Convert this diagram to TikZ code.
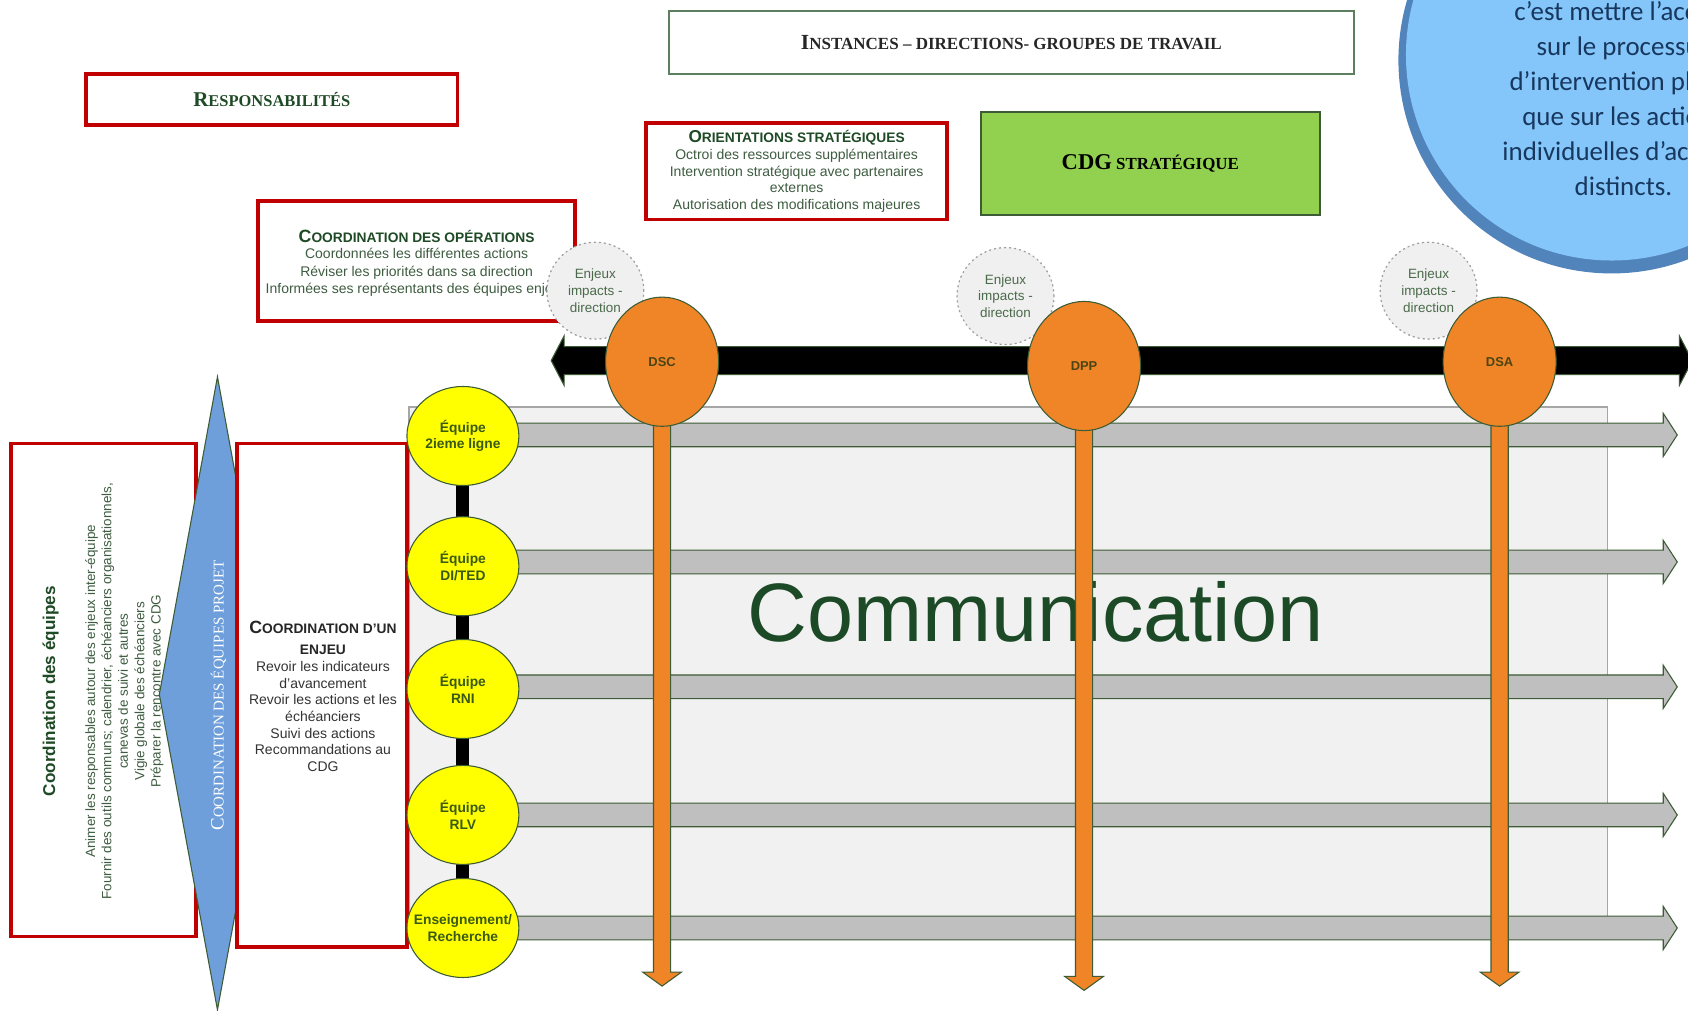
\documentclass[tikz,border=0pt]{standalone}
\usepackage{fontspec}
\usetikzlibrary{shapes.geometric,calc}
\newfontfamily\arialf{Liberation Sans}
\newfontfamily\serif{Liberation Serif}
\newfontfamily\calibf{Carlito}

\definecolor{boxred}{HTML}{C00000}
\definecolor{ttlgreen}{HTML}{1F4A26}
\definecolor{bodygreen}{HTML}{3E5C40}
\definecolor{edgegreen}{HTML}{3D5C35}
\definecolor{cdggreen}{HTML}{92D050}
\definecolor{orangefill}{HTML}{F08527}
\definecolor{yellowfill}{HTML}{FFFF00}
\definecolor{graybar}{HTML}{BFBFBF}
\definecolor{panel}{HTML}{F1F1F1}
\definecolor{paneledge}{HTML}{A6A6A6}
\definecolor{diamondblue}{HTML}{6F9FDB}
\definecolor{commgreen}{HTML}{1C4A27}
\definecolor{skyin}{HTML}{84C6F9}
\definecolor{skyrim}{HTML}{5284BC}
\definecolor{navytext}{HTML}{17375E}
\definecolor{enjeuxfill}{HTML}{F0F0F0}
\definecolor{enjeuxedge}{HTML}{A0A0A0}
\definecolor{enjeuxtext}{HTML}{4A6A4A}
\definecolor{yellowtext}{HTML}{3A5A14}
\definecolor{orangetext}{HTML}{4A4514}
\definecolor{instedge}{HTML}{5E7E60}

% larger first letter for the hand-made small capitals
\newcommand\initcap[2]{{\fontsize{#1}{#1}\selectfont #2}}

% block arrows: style, start, tip, half shaft, half head, head length
\newcommand\blockright[6]{\path[#1] let \p1=(#2), \p2=(#3) in
  (\x1,\y1-#4) -- (\x2-#6,\y1-#4) -- (\x2-#6,\y1-#5) -- (\x2,\y1)
  -- (\x2-#6,\y1+#5) -- (\x2-#6,\y1+#4) -- (\x1,\y1+#4) -- cycle;}
\newcommand\blockdouble[6]{\path[#1] let \p1=(#2), \p2=(#3) in
  (\x1,\y1) -- (\x1+#6,\y1+#5) -- (\x1+#6,\y1+#4) -- (\x2-#6,\y1+#4)
  -- (\x2-#6,\y1+#5) -- (\x2,\y1) -- (\x2-#6,\y1-#5) -- (\x2-#6,\y1-#4)
  -- (\x1+#6,\y1-#4) -- (\x1+#6,\y1-#5) -- cycle;}
\newcommand\blockdown[6]{\path[#1] let \p1=(#2), \p2=(#3) in
  (\x1-#4,\y1) -- (\x1-#4,\y2+#6) -- (\x1-#5,\y2+#6) -- (\x1,\y2)
  -- (\x1+#5,\y2+#6) -- (\x1+#4,\y2+#6) -- (\x1+#4,\y1) -- cycle;}

\begin{document}
\begin{tikzpicture}[x=1pt,y=-1pt,
  redbox/.style={draw=boxred, line width=3.5, fill=white, inner sep=0},
  enjeux/.style={circle, draw=enjeuxedge, dash pattern=on 1.2pt off 3.5pt, line cap=round,
    line width=1.2, fill=enjeuxfill, minimum size=90, inner sep=0, align=center,
    text=enjeuxtext, font=\arialf\fontsize{12.5}{15.5}\selectfont},
  orangeball/.style={ellipse, draw=edgegreen, line width=1, fill=orangefill,
    minimum width=105, minimum height=120, inner sep=0, text=orangetext,
    font=\arialf\bfseries\fontsize{12}{14}\selectfont},
  yellowball/.style={ellipse, draw=edgegreen, line width=1, fill=yellowfill,
    minimum width=104, minimum height=92, inner sep=0},
  yellowlabel/.style={align=center, text=yellowtext, inner sep=0,
    font=\arialf\bfseries\fontsize{12.8}{15.5}\selectfont},
  grayarrow/.style={fill=graybar, draw=edgegreen, line width=1},
  blackarrow/.style={fill=black, draw=edgegreen, line width=1},
  orangearrow/.style={fill=orangefill, draw=edgegreen, line width=1},
  teamlink/.style={line width=12, draw=black},
  smalltitle/.style={font=\arialf\bfseries\fontsize{12.8}{19}\selectfont, align=center},
  bodytext/.style={font=\arialf\fontsize{13}{15.5}\selectfont, align=center}
]
\useasboundingbox (0,0) rectangle (1568,939);
\clip (0,0) rectangle (1568,939);
\fill[white] (0,0) rectangle (1568,939);

% blue bubble in the upper right corner
\fill[skyrim] (1497,56) circle (198);
\fill[skyin] (1497,51) circle (191);
\node[font=\calibf\fontsize{25}{32.6}\selectfont, text=navytext, align=center] (bubble)
  at (1508,91.5) {c’est mettre l’accent\\sur le processus\\d’intervention plutôt\\que sur les actions\\individuelles d’acteurs\\distincts.};

% headings of the upper band
\node[draw=instedge, line width=1.8, fill=white, minimum width=637, minimum height=59,
  font=\serif\bfseries\fontsize{15.8}{18}\selectfont, text=black!85] (instances)
  at (939.5,39.5) {\initcap{20}{I}NSTANCES – DIRECTIONS- GROUPES DE TRAVAIL};
\node[redbox, minimum width=345, minimum height=47, text=ttlgreen,
  font=\serif\bfseries\fontsize{15.3}{18}\selectfont] (resp)
  at (252.5,92.5) {\initcap{19.5}{R}ESPONSABILITÉS};

\node[redbox, minimum width=280, minimum height=90] (orient) at (740,159) {};
\node[smalltitle, text=ttlgreen] (orienttitle) at (740,128) {\initcap{16}{O}RIENTATIONS STRATÉGIQUES};
\node[bodytext, text=bodygreen] (orientbody) at (740,168)
  {Octroi des ressources supplémentaires\\Intervention stratégique avec partenaires\\externes\\Autorisation des modifications majeures};

\node[draw=edgegreen, line width=1.5, fill=cdggreen, minimum width=315, minimum height=96,
  font=\serif\bfseries\fontsize{15.7}{18}\selectfont, text=black] (cdg)
  at (1068.5,152) {\initcap{21}{CDG} STRATÉGIQUE};

\node[redbox, minimum width=294, minimum height=111] (coordop) at (387,242.5) {};
\node[smalltitle, text=ttlgreen] (coordoptitle) at (387,220) {\initcap{16.5}{C}OORDINATION DES OPÉRATIONS};
\node[bodytext, text=bodygreen, font=\arialf\fontsize{13}{16}\selectfont] (coordopbody) at (387,253)
  {Coordonnées les différentes actions\\Réviser les priorités dans sa direction\\Informées ses représentants des équipes enjeux};

% communication panel with the team streams
\draw[fill=panel, draw=paneledge, line width=1.2] (380,378) rectangle (1493,862);
\foreach \i/\yy in {1/404,2/522,3/638,4/757,5/862}{
  \coordinate (gs\i) at (470,\yy);
  \coordinate (ge\i) at (1558,\yy);
  \blockright{grayarrow}{gs\i}{ge\i}{11pt}{20pt}{13pt}
}
\node[font=\arialf\fontsize{77}{80}\selectfont, text=commgreen, inner sep=0] (comm) at (962,568) {Communication};

% line of the directions
\coordinate (bl) at (512,335);
\coordinate (br) at (1572,335);
\blockdouble{blackarrow}{bl}{br}{13pt}{23pt}{12pt}

\node[enjeux] (enj1) at (553,270) {Enjeux\\impacts -\\direction};
\node[enjeux] (enj2) at (934,275) {Enjeux\\impacts -\\direction};
\node[enjeux] (enj3) at (1327,270) {Enjeux\\impacts -\\direction};

\coordinate (dscc) at (615,336);
\coordinate (dppc) at (1007,340);
\coordinate (dsac) at (1393,336);
\coordinate (dscend) at (615,916);
\coordinate (dppend) at (1007,920);
\coordinate (dsaend) at (1393,916);
\blockdown{orangearrow}{dscc}{dscend}{8pt}{18pt}{13pt}
\blockdown{orangearrow}{dppc}{dppend}{8pt}{18pt}{13pt}
\blockdown{orangearrow}{dsac}{dsaend}{8pt}{18pt}{13pt}
\node[orangeball] (dsc) at (dscc) {DSC};
\node[orangeball] (dpp) at (dppc) {DPP};
\node[orangeball] (dsa) at (dsac) {DSA};

% team coordination column
\node[redbox, minimum width=172, minimum height=458] (coordeq) at (96,641) {};
\node[rotate=90, font=\arialf\bfseries\fontsize{15.9}{18}\selectfont, text=ttlgreen] (coordeqtitle)
  at (47,642) {Coordination des équipes};
\node[rotate=90, align=center, font=\arialf\fontsize{12.5}{15.25}\selectfont, text=bodygreen] (coordeqbody)
  at (115.5,642) {Animer les responsables autour des enjeux inter-équipe\\Fournir des outils communs; calendrier, échéanciers organisationnels,\\canevas de suivi et autres\\Vigie globale des échéanciers\\Préparer la rencontre avec CDG};

\coordinate (dtop) at (202,350);
\coordinate (dleft) at (148,645);
\coordinate (dbot) at (202,938);
\coordinate (dright) at (256,645);
\draw[fill=diamondblue, draw=edgegreen, line width=1] (dtop) -- (dleft) -- (dbot) -- (dright) -- cycle;
\node[rotate=90, text=white, font=\serif\fontsize{13.9}{16}\selectfont] (projlabel)
  at (203,646) {\initcap{17.5}{C}OORDINATION DES ÉQUIPES PROJET};

\node[redbox, minimum width=158, minimum height=468] (coordenj) at (299,646) {};
\node[smalltitle, text=black!85] (coordenjtitle) at (300,592.5)
  {\initcap{16.5}{C}OORDINATION D’UN\\ENJEU};
\node[bodytext, text=black!80] (coordenjbody) at (300,665.5)
  {Revoir les indicateurs\\d’avancement\\Revoir les actions et les\\échéanciers\\Suivi des actions\\Recommandations au\\CDG};

% teams
\coordinate (yc1) at (430,405);
\coordinate (yc2) at (430,526);
\coordinate (yc3) at (430,640);
\coordinate (yc4) at (430,757);
\coordinate (yc5) at (430,862);
\draw[teamlink] (yc1) -- (yc2) -- (yc3) -- (yc4) -- (yc5);
\node[yellowball] (y1) at (yc1) {};
\node[yellowball] (y2) at (yc2) {};
\node[yellowball] (y3) at (yc3) {};
\node[yellowball] (y4) at (yc4) {};
\node[yellowball] (y5) at (yc5) {};
\node[yellowlabel] (y1t) at (y1) {Équipe\\2ieme ligne};
\node[yellowlabel] (y2t) at (y2) {Équipe\\DI/TED};
\node[yellowlabel] (y3t) at (y3) {Équipe\\RNI};
\node[yellowlabel] (y4t) at (y4) {Équipe\\RLV};
\node[yellowlabel] (y5t) at (y5) {Enseignement/\\Recherche};
\end{tikzpicture}
\end{document}
